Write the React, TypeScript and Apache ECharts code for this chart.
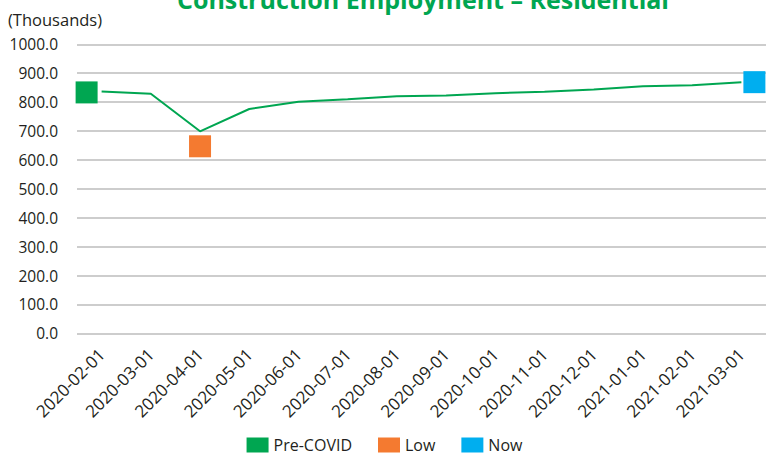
import React, { useEffect, useRef } from "react";
import * as echarts from "echarts";

const categories = [
  "2020-02-01", "2020-03-01", "2020-04-01", "2020-05-01", "2020-06-01", "2020-07-01", "2020-08-01",
  "2020-09-01", "2020-10-01", "2020-11-01", "2020-12-01", "2021-01-01", "2021-02-01", "2021-03-01",
];
const employment = [837, 829, 699, 776, 801, 810, 820, 823, 831, 836, 844, 855, 858, 869];
const preCovid = [[0, 837]];
const low = [[2, 699]];
const now = [[13, 869]];
const titleText = "Construction Employment \u2013 Residential";
const unitText = "(Thousands)";

const GREEN = "#00a651";
const ORANGE = "#f47a30";
const BLUE = "#00aeef";
const FONT = "'Open Sans', 'Noto Sans', sans-serif";
const TEXT = "#231f20";

export default function App() {
  const ref = useRef<HTMLDivElement>(null);
  useEffect(() => {
    if (!ref.current) return;
    const chart = echarts.init(ref.current, null, { renderer: "svg" });
    chart.setOption({
      animation: false,
      backgroundColor: "#ffffff",
      textStyle: { fontFamily: FONT },
      graphic: [
        {
          type: "text",
          x: 423,
          y: -1,
          style: {
            text: titleText,
            fill: GREEN,
            font: `bold 25px ${FONT}`,
            textAlign: "center",
            textVerticalAlign: "middle",
          },
        },
        {
          type: "text",
          x: 8,
          y: 19,
          style: {
            text: unitText,
            fill: TEXT,
            font: `16.5px ${FONT}`,
            textAlign: "left",
            textVerticalAlign: "middle",
          },
        },
      ],
      grid: { left: 77, right: 3, top: 44.3, bottom: 457 - 333.3, containLabel: false },
      xAxis: {
        type: "category",
        data: categories,
        boundaryGap: true,
        axisLine: { show: false },
        axisTick: { show: false },
        axisLabel: {
          rotate: 45,
          interval: 0,
          margin: 18,
          color: TEXT,
          fontSize: 17,
          fontFamily: FONT,
        },
      },
      yAxis: {
        type: "value",
        min: 0,
        max: 1000,
        interval: 100,
        axisLine: { show: false },
        axisTick: { show: false },
        splitLine: { lineStyle: { color: "#bdbdbd", width: 1.5 } },
        axisLabel: {
          margin: 19,
          color: TEXT,
          fontSize: 15.5,
          fontFamily: FONT,
          formatter: (v: number) => v.toFixed(1),
        },
      },
      legend: {
        left: "center",
        top: 432,
        itemWidth: 22,
        itemHeight: 15,
        itemGap: 26,
        icon: "rect",
        textStyle: { color: TEXT, fontSize: 16, fontFamily: FONT },
        data: ["Pre-COVID", "Low", "Now"],
      },
      series: [
        {
          name: "Employment",
          type: "line",
          data: employment,
          symbol: "none",
          lineStyle: { color: GREEN, width: 2 },
          itemStyle: { color: GREEN },
          z: 2,
        },
        {
          name: "Pre-COVID",
          type: "scatter",
          data: preCovid,
          symbol: "rect",
          symbolSize: 22,
          symbolOffset: [-15, 1],
          itemStyle: { color: GREEN, opacity: 1 },
          z: 3,
        },
        {
          name: "Low",
          type: "scatter",
          data: low,
          symbol: "rect",
          symbolSize: 22,
          symbolOffset: [0, 15],
          itemStyle: { color: ORANGE, opacity: 1 },
          z: 3,
        },
        {
          name: "Now",
          type: "scatter",
          data: now,
          symbol: "rect",
          symbolSize: 22,
          symbolOffset: [13, 0],
          itemStyle: { color: BLUE, opacity: 1 },
          z: 3,
        },
      ],
    });
    return () => chart.dispose();
  }, []);
  return (
    <div
      ref={ref}
      style={{ position: "fixed", left: 0, top: 0, width: 769, height: 457 }}
    />
  );
}
